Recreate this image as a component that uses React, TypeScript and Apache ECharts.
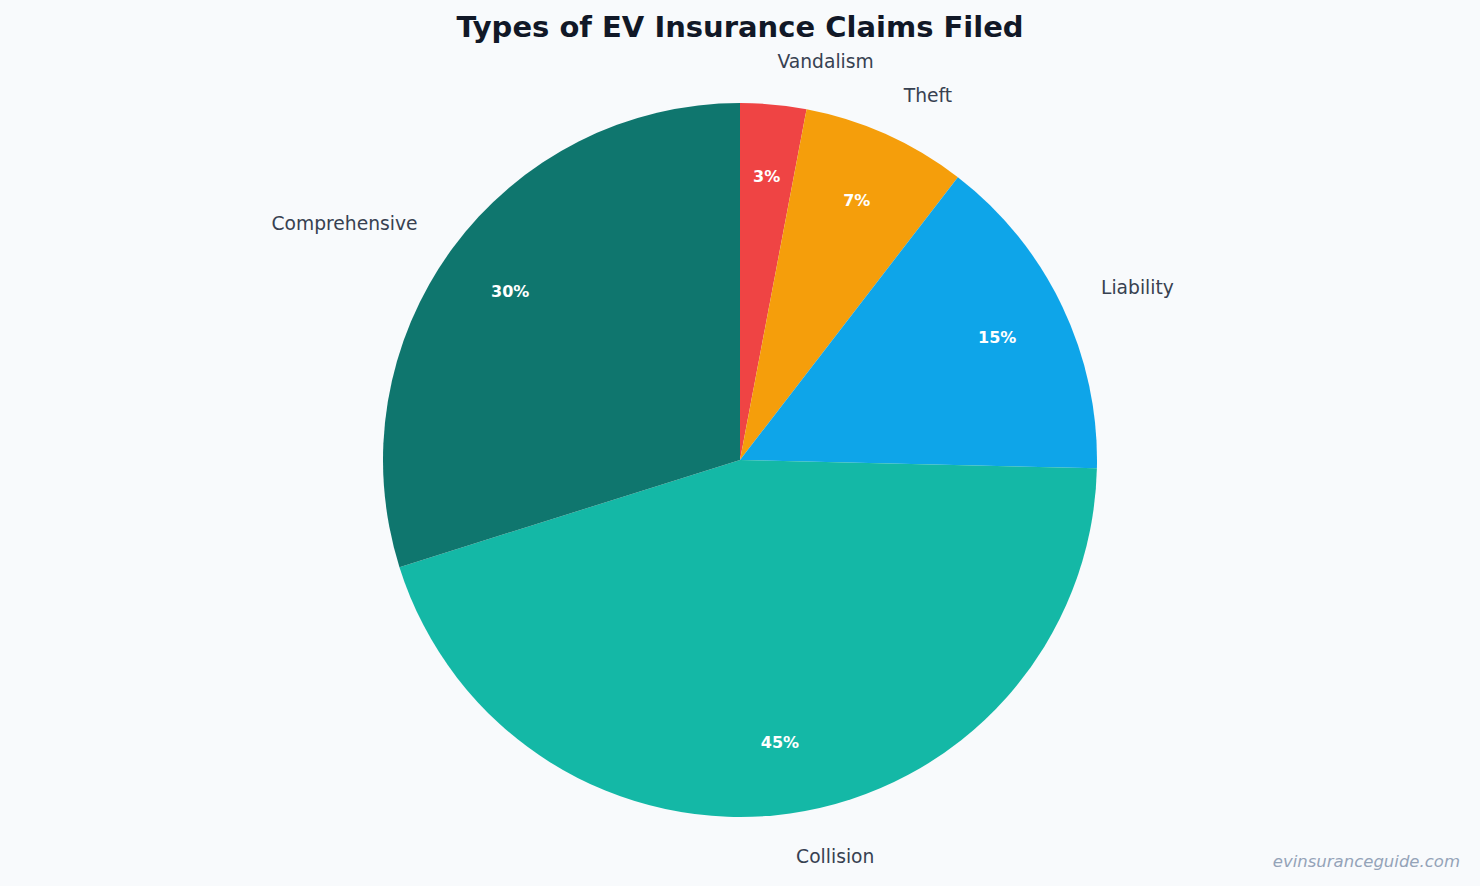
import React, { useEffect, useRef } from "react";
import * as echarts from "echarts";

const categories = ["Vandalism", "Theft", "Liability", "Collision", "Comprehensive"];
const values = [3, 7.5, 15, 45, 30];
const colors = ["#ef4444", "#f59e0b", "#0ea5e9", "#14b8a6", "#0f766e"];
const titleText = "Types of EV Insurance Claims Filed";
const watermark = "evinsuranceguide.com";

const FONT = "DejaVu Sans, Verdana, sans-serif";

export default function App() {
  const ref = useRef<HTMLDivElement>(null);
  useEffect(() => {
    document.body.style.margin = "0";
    const chart = echarts.init(ref.current!, null, { renderer: "svg" });
    const data = categories.map((name, i) => ({
      name,
      value: values[i],
      itemStyle: { color: colors[i] },
    }));
    const R = 357;
    chart.setOption({
      animation: false,
      backgroundColor: "#f8fafc",
      title: {
        text: titleText,
        left: "center",
        top: 7,
        textStyle: { fontFamily: FONT, fontSize: 29, fontWeight: "bold", color: "#111827" },
      },
      graphic: [
        {
          type: "text",
          right: 20,
          top: 853,
          style: {
            text: watermark,
            fontFamily: FONT,
            fontSize: 16.5,
            fontStyle: "italic",
            fill: "#94a3b8",
          },
        },
      ],
      series: [
        {
          type: "pie",
          center: [740, 460],
          radius: [0, R],
          startAngle: 90,
          clockwise: true,
          avoidLabelOverlap: false,
          data,
          label: {
            show: true,
            position: "outside",
            formatter: "{b}",
            fontFamily: FONT,
            fontSize: 18.7,
            color: "#374151",
            distanceToLabelLine: 0,
          },
          labelLine: { show: false, length: 43, length2: 0 },
          emphasis: { disabled: true },
        },
        {
          type: "pie",
          center: [740, 460],
          radius: [207, R],
          startAngle: 90,
          clockwise: true,
          avoidLabelOverlap: false,
          silent: true,
          data: categories.map((name, i) => ({ name, value: values[i] })),
          itemStyle: { color: "rgba(0,0,0,0)" },
          label: {
            show: true,
            position: "inside",
            formatter: (p: any) => Math.round(p.percent) + "%",
            fontFamily: FONT,
            fontSize: 16,
            fontWeight: "bold",
            color: "#ffffff",
          },
          labelLine: { show: false },
          emphasis: { disabled: true },
        },
      ],
    });
    return () => chart.dispose();
  }, []);
  return <div ref={ref} style={{ width: 1480, height: 886 }} />;
}
